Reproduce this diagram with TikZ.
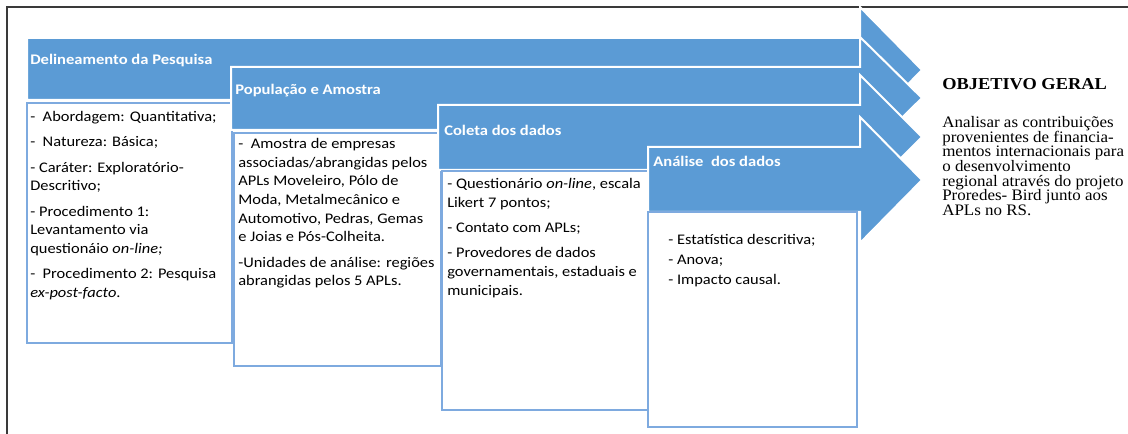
\documentclass[tikz,border=0pt]{standalone}
\usepackage{fontspec}
\setmainfont{Carlito}
\newfontfamily\serifa{Liberation Serif}
\usepackage{xcolor}
\usepackage{tikz}
\definecolor{azulseta}{HTML}{5B9BD5}
\definecolor{azulborda}{HTML}{7EAADF}
\definecolor{moldura}{HTML}{3A3A3A}
\newcommand{\fonteobjetivo}{\serifa\fontsize{12}{11}\selectfont\setlength{\lineskiplimit}{-20pt}}
\tikzstyle{seta} = [fill=azulseta, draw=white, line width=1.5pt, line join=miter]
\tikzstyle{caixa} = [fill=white, draw=azulborda, line width=1.1pt]
\tikzstyle{cabecalho} = [anchor=west, inner sep=0pt, xscale=1.13, text=white, font=\bfseries\fontsize{11}{13}\selectfont]
\tikzstyle{texto} = [anchor=north west, inner sep=0pt, xscale=1.12, align=left, font=\fontsize{11}{14}\selectfont]
\tikzstyle{objetivo} = [anchor=north west, inner sep=0pt, xscale=1.06, align=left, font=\fonteobjetivo]

\begin{document}
\begin{tikzpicture}[x=0.75pt, y=-0.75pt]
    \useasboundingbox (0,0) rectangle (1128,434);

    %% moldura
    \draw[moldura, line width=1.5pt] (7,434) -- (7,7) -- (1128,7);

    %% delineamento da pesquisa
    \filldraw[seta] (27,38) -- (860,38) -- (860,7) -- (922,70) -- (860,133) -- (860,100) -- (27,100) -- cycle;
    \draw[caixa] (27,103) rectangle (232,343);

    %% populacao e amostra
    \filldraw[seta] (231,67) -- (860,67) -- (860,37) -- (922,98) -- (860,159) -- (860,130) -- (231,130) -- cycle;
    \draw[caixa] (234,133) rectangle (441,366);

    %% coleta dos dados
    \filldraw[seta] (438,105) -- (860,105) -- (860,75) -- (922,137) -- (860,199) -- (860,170) -- (438,170) -- cycle;
    \draw[caixa] (442,171) rectangle (649,410);

    %% analise dos dados
    \filldraw[seta] (648,147) -- (860,147) -- (860,117) -- (922,180) -- (860,243) -- (860,212) -- (648,212) -- cycle;
    \draw[caixa] (648,212) rectangle (857,427);

    %% titulos
    \node (delineamento) [cabecalho] at (30,61) {Delineamento da Pesquisa};
    \node (populacao) [cabecalho] at (235,91) {População e Amostra};
    \node (coleta) [cabecalho] at (444,130) {Coleta dos dados};
    \node (analise) [cabecalho] at (653,161) {Análise\ \ dos dados};

    %% textos das caixas
    \node (textoA) [texto] at (30,111) {-\ \ Abordagem: Quantitativa;\\[5pt]
        -\ \ Natureza: Básica;\\[5pt]
        - Caráter: Exploratório-\\Descritivo;\\[5pt]
        - Procedimento 1:\\Levantamento via\\questionáio \textit{on-line;}\\[5pt]
        -\ \ Procedimento 2: Pesquisa\\\textit{ex-post-facto}.};
    \node (textoB) [texto] at (238,138) {-\ \ Amostra de empresas\\associadas/abrangidas pelos\\APLs Moveleiro, Pólo de\\Moda, Metalmecânico e\\Automotivo, Pedras, Gemas\\e Joias e Pós-Colheita.\\[5pt]
        -Unidades de análise: regiões\\abrangidas pelos 5 APLs.};
    \node (textoC) [texto] at (447,178) {- Questionário \textit{on-line}, escala\\Likert 7 pontos;\\[5pt]
        - Contato com APLs;\\[5pt]
        - Provedores de dados\\governamentais, estaduais e\\municipais.};
    \node (textoD) [texto] at (668,234) {- Estatística descritiva;\\[1pt]- Anova;\\[1pt]- Impacto causal.};

    %% objetivo geral
    \node (objetivo) [objetivo, xscale=1.04, font=\serifa\bfseries\fontsize{12.5}{14}\selectfont] at (942,78) {OBJETIVO GERAL};
    \node (descricao) [objetivo] at (942,116) {Analisar as contribuições\\provenientes de financia-\\mentos internacionais para\\o desenvolvimento\\regional através do projeto\\Proredes- Bird junto aos\\APLs no RS.};
\end{tikzpicture}
\end{document}
